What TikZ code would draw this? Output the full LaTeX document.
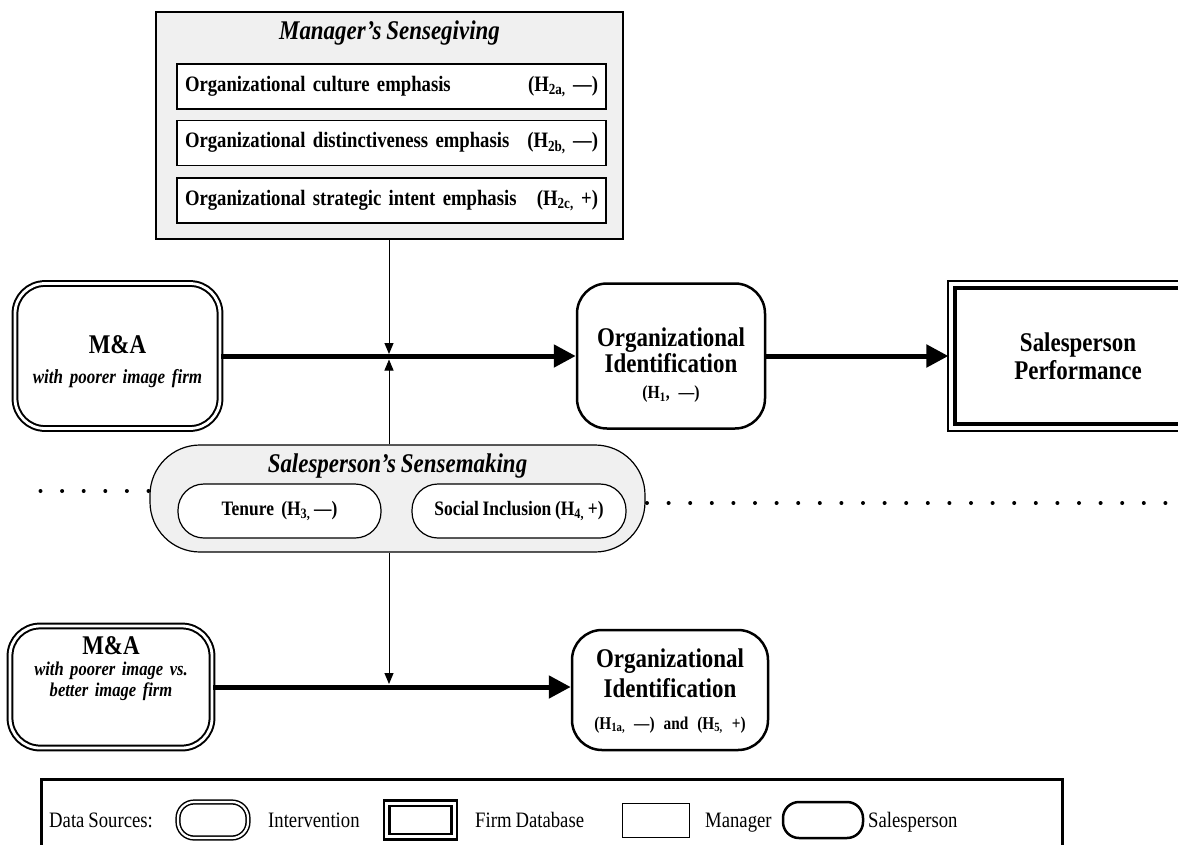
\documentclass[tikz,border=0pt]{standalone}
\usepackage{fontspec}
\setmainfont{Liberation Serif}[FakeStretch=0.85, WordSpace=0.85]
\usetikzlibrary{arrows.meta,calc}
\newcommand\fsz[2]{\fontsize{#1}{#2}\selectfont}
\tikzset{
  x=1pt, y=-1pt,
  mgrbox/.style={draw, line width=1.2pt, fill=black!6, inner sep=0pt},
  itembox/.style={draw, line width=1.2pt, fill=white, minimum width=429pt, minimum height=45pt,
     text width=413pt, align=left, inner sep=0pt, font=\bfseries\fsz{22}{25}},
  interv/.style={draw, double, line width=2pt, double distance=2.8pt, rounded corners=30pt,
     fill=white, inner sep=0pt},
  salesbox/.style={draw, line width=2.5pt, rounded corners=30pt, fill=white, inner sep=0pt},
  firmdb/.style={draw, line width=3.2pt, fill=white, inner sep=0pt},
  sensebox/.style={draw, line width=1.2pt, fill=black!6, rounded corners=50pt, inner sep=0pt},
  pillbox/.style={draw, line width=1.2pt, fill=white, rounded corners=26pt, inner sep=0pt,
     font=\bfseries\fsz{20.5}{24}},
  boxtext/.style={align=center, inner sep=0pt},
  titletext/.style={font=\bfseries\itshape\fsz{27}{30}, inner sep=0pt},
  legtext/.style={font=\fsz{22}{24}, anchor=base west, inner sep=0pt},
  bigarrow/.style={line width=5pt, -{Triangle[length=22pt,width=22pt]}},
  thinarrow/.style={line width=1pt, -{Triangle[length=11pt,width=9pt]}},
  dotline/.style={line width=4pt, line cap=round, dash pattern=on 0pt off 21.6pt},
}
\begin{document}
\begin{tikzpicture}
\path[use as bounding box] (0,0) rectangle (1178,844);
\clip (0,0) rectangle (1178,844);

% dotted separator
\draw[dotline] (40.5,491) -- (150,491);
\draw[dotline] (647,503) -- (1178,503);

% Manager's sensegiving
\node[mgrbox, minimum width=467pt, minimum height=227pt] (mgr) at (389.5,125.5) {};
\node[titletext] (mgrtitle) at (389.5,33) {Manager’s Sensegiving};
\node[itembox] (c1) at (391.5,86.5) {Organizational culture emphasis\hfill(H\textsubscript{2a,} —)};
\node[itembox] (c2) at (391.5,143) {Organizational distinctiveness emphasis\hfill(H\textsubscript{2b,} —)};
\node[itembox] (c3) at (391.5,200.5) {Organizational strategic intent emphasis\hfill(H\textsubscript{2c,} +)};

% upper row
\node[interv, minimum width=205pt, minimum height=145pt] (ma1) at (117.5,356) {};
\node[boxtext, text width=200pt, font=\bfseries\itshape\fsz{20}{30}] (ma1t) at (117.5,362)
  {{\upshape\fsz{27}{30}M\&A}\\with poorer image firm};
\node[salesbox, minimum width=188pt, minimum height=145pt] (oi1) at (671,356) {};
\node[boxtext, text width=184pt, font=\bfseries\fsz{27}{26}] (oi1t) at (671,365)
  {Organizational\\Identification\\[0pt]{\fsz{18.5}{22}(H\textsubscript{1}, —)}};
\node[firmdb, minimum width=250pt, minimum height=136pt] (sp) at (1080,356) {};
\draw[line width=2pt] ([xshift=-5.2pt,yshift=5.2pt]sp.north west) rectangle ([xshift=5.2pt,yshift=-5.2pt]sp.south east);
\node[boxtext, text width=240pt, font=\bfseries\fsz{27}{28}] (spt) at (1078,356) {Salesperson\\Performance};

% Salesperson's sensemaking
\node[sensebox, minimum width=495pt, minimum height=107pt] (sense) at (397.5,498.5) {};
\node[titletext] (sensetitle) at (397.5,466) {Salesperson’s Sensemaking};
\node[pillbox, minimum width=203pt, minimum height=54pt] (ten) at (279.5,511) {Tenure\ \ (H\textsubscript{3,} —)};
\node[pillbox, minimum width=214pt, minimum height=54pt] (soc) at (519,511) {Social Inclusion (H\textsubscript{4,} +)};

% lower row
\node[interv, minimum width=202pt, minimum height=122pt] (ma2) at (111,687) {};
\node[boxtext, text width=196pt, font=\bfseries\itshape\fsz{19.5}{21}] (ma2t) at (111,669)
  {{\upshape\fsz{27}{21}M\&A}\\with poorer image vs.\\better image firm};
\node[salesbox, minimum width=196pt, minimum height=120pt] (oi2) at (670,690) {};
\node[boxtext, text width=192pt, font=\bfseries\fsz{27}{30}] (oi2t) at (670,691)
  {Organizational\\Identification\\[2pt]{\fsz{18}{22}(H\textsubscript{1a,} —) and (H\textsubscript{5,} +)}};

% junction coordinates
\coordinate (j1top) at (389,354);
\coordinate (j1bot) at (389,359.5);
\coordinate (j2) at (389,684);

% connectors
\draw[bigarrow] (ma1.east) -- (oi1.west);
\draw[bigarrow] (oi1.east) -- ([xshift=-5pt]sp.west);
\draw[bigarrow] (ma2.east) -- (ma2.east -| oi2.west);
\draw[thinarrow] (j1top |- mgr.south) -- (j1top);
\draw[thinarrow] (j1bot |- sense.north) -- (j1bot);
\draw[thinarrow] (j2 |- sense.south) -- (j2);

% legend
\coordinate (lgA) at (41,850);
\coordinate (lgB) at (1062,850);
\draw[line width=3pt] (lgA) |- (1062,779) -- (lgB);
\node[legtext] (lg0) at (49,827) {Data Sources:};
\node[interv, line width=1.5pt, double distance=2.2pt, rounded corners=16pt, minimum width=70pt, minimum height=36pt] (lgi) at (213,820) {};
\node[legtext] (lg1) at (268,827) {Intervention};
\node[draw, line width=2.2pt, minimum width=62pt, minimum height=28pt, inner sep=0pt] (lgf) at (420.5,820) {};
\draw[line width=2.6pt] ([xshift=-4.5pt,yshift=4.5pt]lgf.north west) rectangle ([xshift=4.5pt,yshift=-4.5pt]lgf.south east);
\node[legtext] (lg2) at (475,827) {Firm Database};
\node[draw, line width=1pt, minimum width=67pt, minimum height=34pt, inner sep=0pt] (lgm) at (655.5,820) {};
\node[legtext] (lg3) at (705,827) {Manager};
\node[draw, line width=2.5pt, rounded corners=16pt, minimum width=80pt, minimum height=36pt, inner sep=0pt] (lgs) at (823,820) {};
\node[legtext] (lg4) at (868,827) {Salesperson};
\end{tikzpicture}
\end{document}
